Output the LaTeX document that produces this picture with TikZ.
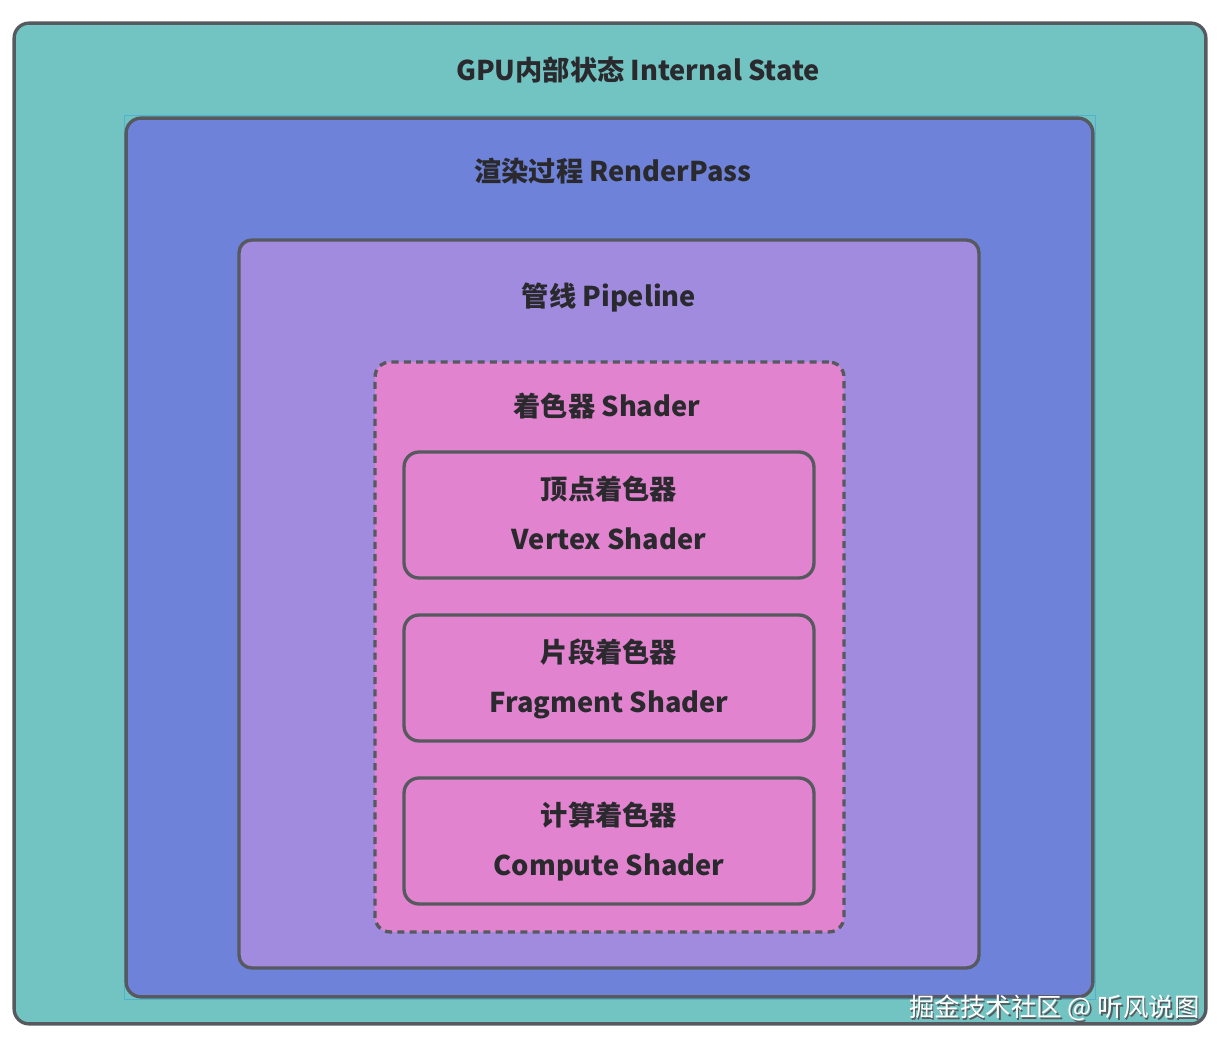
\documentclass[tikz,border=0pt]{standalone}
\usepackage{fontspec}
\setmainfont{Noto Sans CJK SC}
\usetikzlibrary{positioning}
\definecolor{gpuTeal}{HTML}{72C4C3}
\definecolor{gpuBlue}{HTML}{6D82D8}
\definecolor{gpuPurple}{HTML}{A08BDF}
\definecolor{gpuPink}{HTML}{E283D0}
\definecolor{gpuBorder}{HTML}{56595E}
\definecolor{gpuText}{HTML}{2A2A2E}
\definecolor{gpuSelect}{HTML}{4FB3CF}
\tikzset{
  gpu box/.style={draw=gpuBorder, line width=1.9pt, rounded corners=0.3cm, inner sep=0pt},
  gpu title/.style={font=\fontsize{15.5}{18}\selectfont\bfseries, text=gpuText, inner sep=0pt},
  gpu line/.style={font=\fontsize{15.5}{18}\selectfont\bfseries, text=gpuText, inner sep=0pt,
    text height=0.8em, text depth=0.22em},
}

\begin{document}
\begin{tikzpicture}[x=0.02cm, y=-0.02cm,
  stage/.style={gpu box, fill=gpuPink, minimum width=8.2cm, minimum height=2.52cm},
  mark text/.style={font=\fontsize{14.5}{17}\selectfont, inner sep=0pt, anchor=east}
]
  \useasboundingbox (0,0) rectangle (1228,1050);

  % nested state boxes
  \node[gpu box, fill=gpuTeal, minimum width=23.84cm, minimum height=20.02cm] (state) at (610,523.5) {};
  \draw[gpuSelect, line width=0.5pt] (124,115) rectangle (1095,999);
  \node[gpu box, fill=gpuBlue, minimum width=19.34cm, minimum height=17.58cm] (pass) at (609.5,557.5) {};
  \node[gpu box, fill=gpuPurple, rounded corners=0.25cm, minimum width=14.8cm, minimum height=14.56cm] (pipe) at (609,604) {};
  \node[gpu box, fill=gpuPink, dash pattern=on 4pt off 3pt, minimum width=9.38cm, minimum height=11.4cm] (shader) at (609.5,647) {};

  \node[gpu title] (stateT) at (638,70) {GPU内部状态 Internal State};
  \node[gpu title] (passT) at (613,171) {渲染过程 RenderPass};
  \node[gpu title] (pipeT) at (609,298) {管线 Pipeline};
  \node[gpu title] (shaderT) at (607,406) {着色器 Shader};

  % the three shader stages
  \node[stage] (vertex) at (609,515) {};
  \node[gpu line] (vertexA) at (609,494) {顶点着色器};
  \node[gpu line] (vertexB) at (609,544) {Vertex Shader};

  \node[stage] (fragment) at (609,678) {};
  \node[gpu line] (fragmentA) at (609,657) {片段着色器};
  \node[gpu line] (fragmentB) at (609,707) {Fragment Shader};

  \node[stage] (compute) at (609,841) {};
  \node[gpu line] (computeA) at (609,820) {计算着色器};
  \node[gpu line] (computeB) at (609,870) {Compute Shader};

  % watermark
  \node[mark text, text=gpuBorder] (markShade) at (1201.5,1009.5) {掘金技术社区 @ 听风说图};
  \node[mark text, text=white] (mark) at (1200,1008) {掘金技术社区 @ 听风说图};
\end{tikzpicture}
\end{document}
